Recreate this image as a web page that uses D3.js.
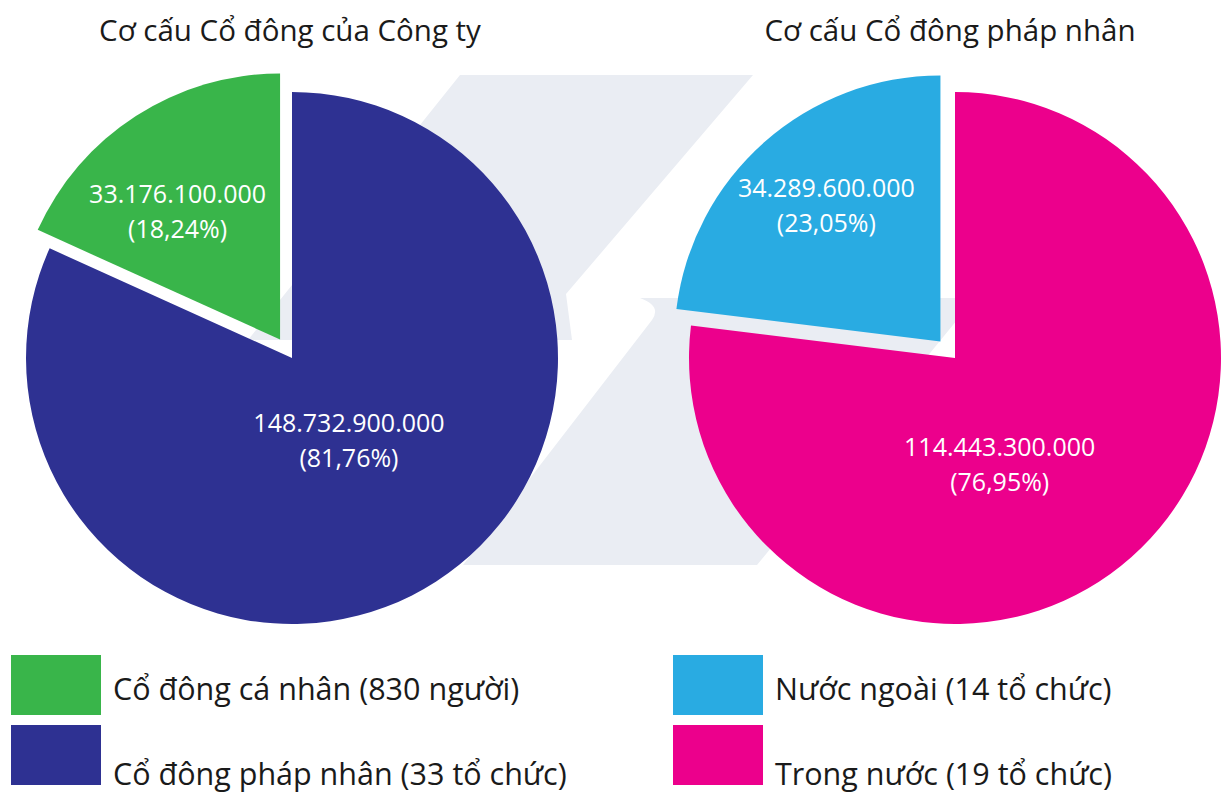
<!DOCTYPE html>
<html>
<head>
    <meta charset="UTF-8">
    <title>Cơ cấu Cổ đông</title>
    <script src="https://cdnjs.cloudflare.com/ajax/libs/d3/7.8.5/d3.min.js"></script>
    <style>
        body {
            margin: 0;
            background: #fff;
            font-family: "Open Sans", "Noto Sans", sans-serif;
        }
        svg { display: block; }
        .title { font-size: 29.5px; fill: #1a1a1a; }
        .value { font-size: 25px; fill: #fff; }
        .legend-text { font-size: 30.5px; fill: #1a1a1a; }
    </style>
</head>
<body>
    <div id="chart"></div>

    <script>
        // Cơ cấu Cổ đông của Công ty
        const companyCategories = ["Cổ đông pháp nhân (33 tổ chức)", "Cổ đông cá nhân (830 người)"];
        const companyValues = [148732900000, 33176100000];
        const companyShares = [81.76, 18.24];
        const companyColors = ["#2e3192", "#39b54a"];

        // Cơ cấu Cổ đông pháp nhân
        const legalCategories = ["Trong nước (19 tổ chức)", "Nước ngoài (14 tổ chức)"];
        const legalValues = [114443300000, 34289600000];
        const legalShares = [76.95, 23.05];
        const legalColors = ["#ec008c", "#29abe2"];

        const titles = ["Cơ cấu Cổ đông của Công ty", "Cơ cấu Cổ đông pháp nhân"];

        const width = 1223, height = 794;
        const radius = 266;
        const explode = 22;

        const vn = d3.formatLocale({ decimal: ",", thousands: ".", grouping: [3], currency: ["", " đ"] });
        const fmtValue = vn.format(",d");
        const fmtShare = vn.format(".2f");

        const charts = [
            { title: titles[0], cats: companyCategories, values: companyValues, shares: companyShares,
              colors: companyColors, cx: 292, cy: 358, titleX: 290,
              // label angle tweak (deg) and radius fraction, per slice
              labelTweak: [[-2, 0.375], [-5.6, 0.62]], legendX: 11 },
            { title: titles[1], cats: legalCategories, values: legalValues, shares: legalShares,
              colors: legalColors, cx: 955, cy: 358, titleX: 950,
              labelTweak: [[18.5, 0.43], [1.7, 0.67]], legendX: 673 }
        ];

        const svg = d3.select("#chart")
            .append("svg")
            .attr("width", width)
            .attr("height", height);

        // faint logo watermark behind the pies
        const wm = svg.append("g").attr("fill", "#eaedf3");
        wm.append("path")
            .attr("d", "M460,75 L753,75 L566,294 L572,340 L248,340 Z");
        wm.append("path")
            .attr("d", "M640,298 L975,298 L757,565 L463,565 L652,320 Q662,306 640,298 Z");

        const pie = d3.pie().sort(null).value(d => d);
        const arc = d3.arc().innerRadius(0).outerRadius(radius);

        charts.forEach(c => {
            const arcs = pie(c.values);
            const g = svg.append("g").attr("transform", `translate(${c.cx},${c.cy})`);

            arcs.forEach((a, i) => {
                const mid = (a.startAngle + a.endAngle) / 2;
                const off = i === 0 ? 0 : explode;
                const ox = Math.sin(mid) * off, oy = -Math.cos(mid) * off;

                g.append("path")
                    .attr("d", arc(a))
                    .attr("fill", c.colors[i])
                    .attr("transform", `translate(${ox},${oy})`);

                const [tweak, frac] = c.labelTweak[i];
                const la = mid + tweak * Math.PI / 180;
                const lx = ox + Math.sin(la) * radius * frac;
                const ly = oy - Math.cos(la) * radius * frac;

                const t = g.append("text")
                    .attr("class", "value")
                    .attr("text-anchor", "middle")
                    .attr("x", lx)
                    .attr("y", ly);
                t.append("tspan").attr("x", lx).attr("dy", "-0.3em").text(fmtValue(c.values[i]));
                t.append("tspan").attr("x", lx).attr("dy", "1.4em").text(`(${fmtShare(c.shares[i])}%)`);
            });

            svg.append("text")
                .attr("class", "title")
                .attr("x", c.titleX)
                .attr("y", 41)
                .attr("text-anchor", "middle")
                .text(c.title);

            // legend: small slice first, then main slice
            [1, 0].forEach((idx, row) => {
                const y = 655 + row * 70;
                svg.append("rect")
                    .attr("x", c.legendX)
                    .attr("y", y)
                    .attr("width", 90)
                    .attr("height", 60)
                    .attr("fill", c.colors[idx]);
                svg.append("text")
                    .attr("class", "legend-text")
                    .attr("x", c.legendX + 102)
                    .attr("y", row === 0 ? 700 : 785)
                    .text(c.cats[idx]);
            });
        });
    </script>
</body>
</html>
